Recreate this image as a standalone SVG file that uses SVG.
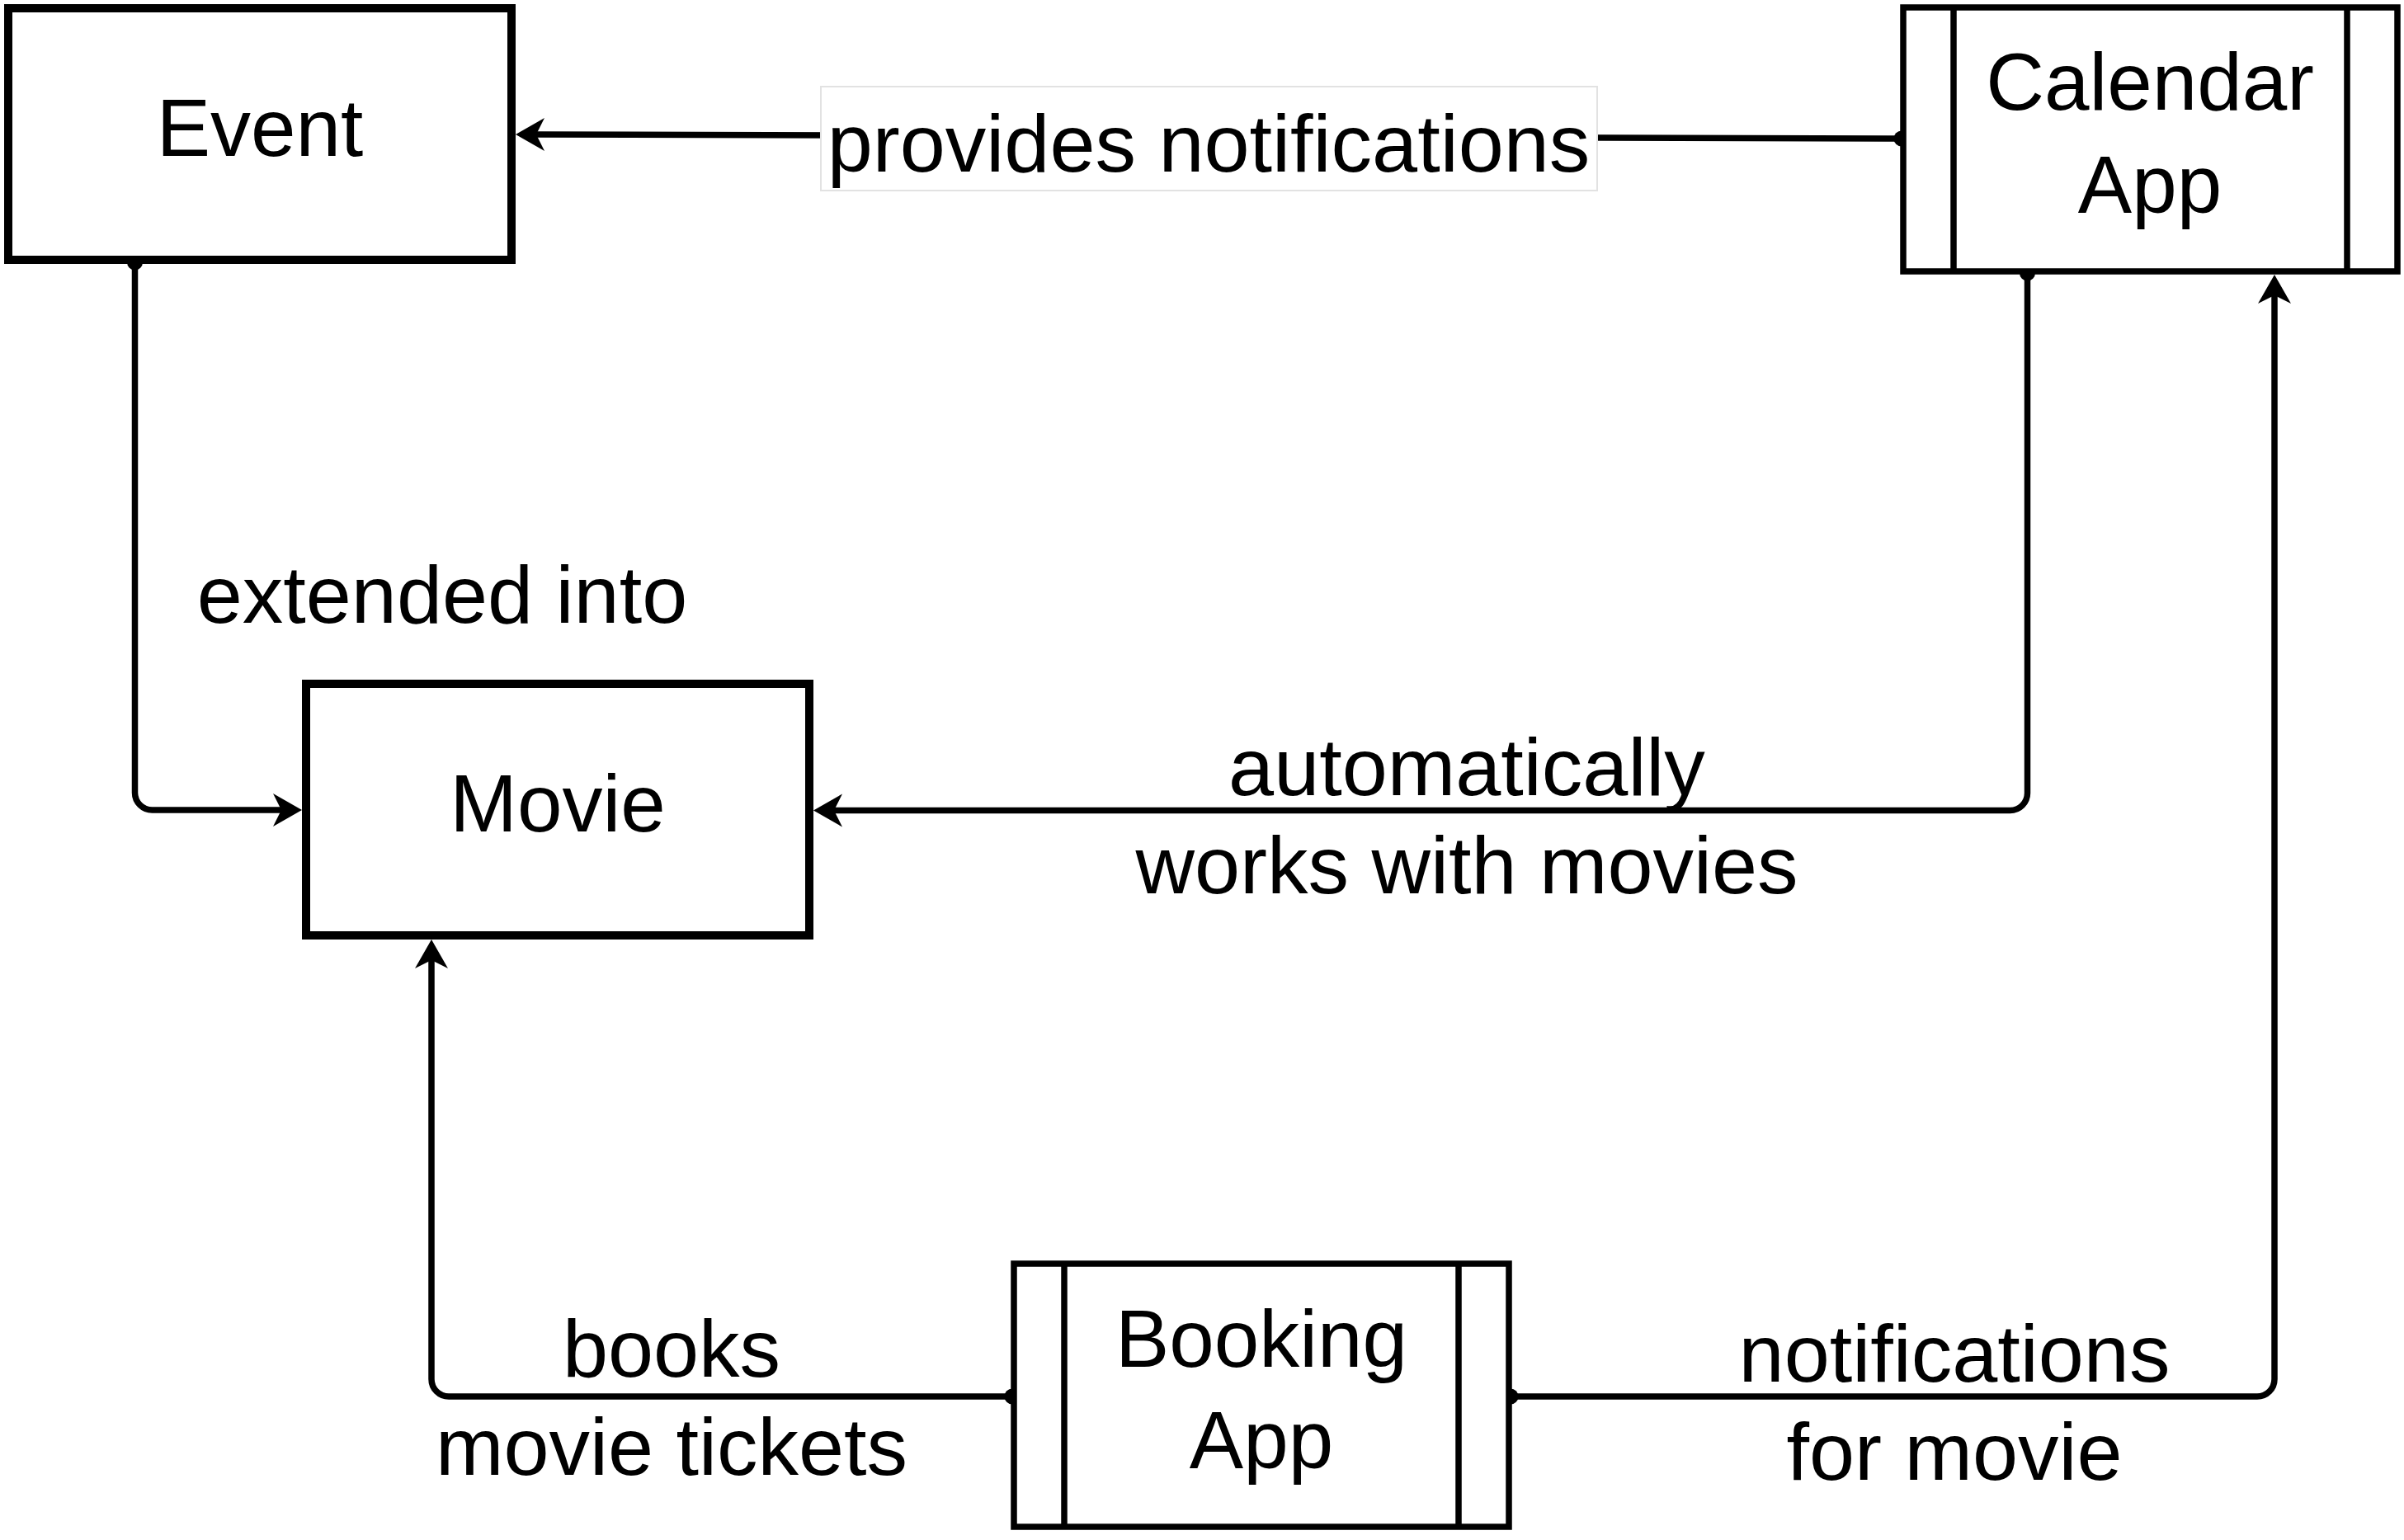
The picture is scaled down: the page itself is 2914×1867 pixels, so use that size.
<svg xmlns="http://www.w3.org/2000/svg" xmlns:xlink="http://www.w3.org/1999/xlink" width="2914" height="1867" viewBox="0 0 2914 1867">
<style>
.node{fill:#fff;stroke:#000}
.bold{stroke-width:10}
.proc{stroke-width:7.5}
.edge{fill:none;stroke:#000;stroke-width:7.5}
.dot{fill:#000}
text{font-family:"Liberation Sans",Arial,Helvetica,sans-serif;font-size:98px;fill:#000;text-anchor:middle}
.lbl{font-size:99px}
</style>
<defs>
<path id="ah" d="M0,0 L-35,-20 L-25,0 L-35,20 Z" fill="#000"/>
</defs>
<rect width="2914" height="1867" fill="#fff"/>
<g id="connectors">
<path class="edge" d="M2303,168 L645,163"/>
<path class="edge" d="M163.5,320 L163.5,961 A21,21 0 0 0 184.5,982 L346,982"/>
<path class="edge" d="M2457.5,333 L2457.5,961.5 A21,21 0 0 1 2436.5,982.5 L1006,982.5"/>
<path class="edge" d="M1225,1693 L544,1693 A21,21 0 0 1 523,1672 L523,1160"/>
<path class="edge" d="M1833,1693 L2736,1693 A21,21 0 0 0 2757,1672 L2757,353"/>
<circle class="dot" cx="2305" cy="168" r="9.5"/>
<circle class="dot" cx="163.5" cy="318" r="9.5"/>
<circle class="dot" cx="2457.5" cy="331" r="9.5"/>
<circle class="dot" cx="1227" cy="1693" r="9.5"/>
<circle class="dot" cx="1831" cy="1693" r="9.5"/>
<use xlink:href="#ah" href="#ah" transform="translate(625,163) rotate(180)"/>
<use xlink:href="#ah" href="#ah" transform="translate(366,982)"/>
<use xlink:href="#ah" href="#ah" transform="translate(986,982.5) rotate(180)"/>
<use xlink:href="#ah" href="#ah" transform="translate(523,1139) rotate(-90)"/>
<use xlink:href="#ah" href="#ah" transform="translate(2757,333) rotate(-90)"/>
<g id="label-provides">
<rect x="995" y="105" width="941" height="126" fill="#fff" stroke="#e2e2e2" stroke-width="2"/>
<text class="lbl" x="1465" y="208">provides notifications</text>
</g>
<text class="lbl" x="536" y="755">extended into</text>
<text class="lbl" x="1778" y="964">automatically</text>
<text class="lbl" x="1778" y="1083">works with movies</text>
<text class="lbl" x="814" y="1669">books</text>
<text class="lbl" x="814" y="1788">movie tickets</text>
<text class="lbl" x="2369" y="1675">notifications</text>
<text class="lbl" x="2369" y="1794">for movie</text>
</g>
<g id="event">
<rect class="node bold" x="10" y="10" width="610" height="305"/>
<text x="315" y="189">Event</text>
</g>
<g id="movie">
<rect class="node bold" x="371" y="829" width="610" height="305"/>
<text x="676" y="1008">Movie</text>
</g>
<g id="calendar-app">
<rect class="node proc" x="2307" y="9" width="599" height="320"/>
<line x1="2368" y1="9" x2="2368" y2="329" stroke="#000" stroke-width="7.5"/>
<line x1="2845" y1="9" x2="2845" y2="329" stroke="#000" stroke-width="7.5"/>
<text x="2606" y="133">Calendar</text>
<text x="2606" y="258">App</text>
</g>
<g id="booking-app">
<rect class="node proc" x="1229" y="1532" width="600" height="319"/>
<line x1="1290" y1="1532" x2="1290" y2="1851" stroke="#000" stroke-width="7.5"/>
<line x1="1768" y1="1532" x2="1768" y2="1851" stroke="#000" stroke-width="7.5"/>
<text x="1529" y="1657">Booking</text>
<text x="1529" y="1780">App</text>
</g>
</svg>
